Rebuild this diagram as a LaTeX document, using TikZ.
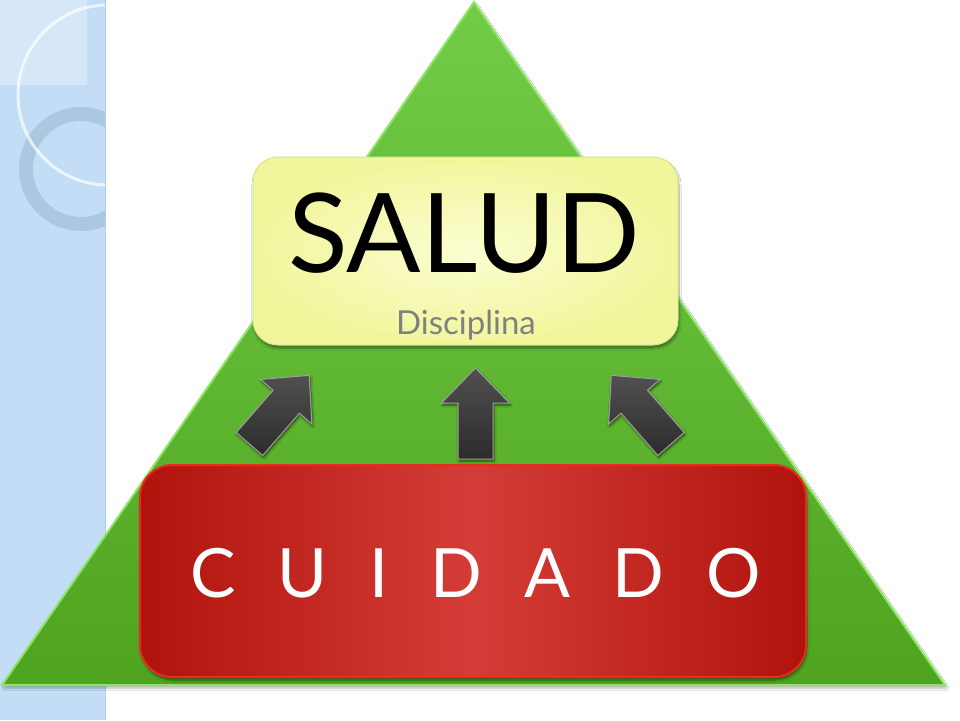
\documentclass[tikz,border=0pt]{standalone}
\usepackage{fontspec}
\setmainfont{Lato}
\usetikzlibrary{shadows.blur}
\definecolor{stripblue}{HTML}{C2DDF5}
\definecolor{striplight}{HTML}{D6E8F8}
\definecolor{stripedge}{HTML}{AFCDE8}
\definecolor{ringblue}{HTML}{A3BFD8}
\definecolor{trtop}{HTML}{72CC48}
\definecolor{trbot}{HTML}{4FA41F}
\definecolor{tredge}{HTML}{8EE466}
\definecolor{yelin}{HTML}{FBFDD0}
\definecolor{yelout}{HTML}{F1F69C}
\definecolor{yeledge}{HTML}{D7E68A}
\definecolor{redin}{HTML}{D43D37}
\definecolor{redout}{HTML}{B0130C}
\definecolor{rededge}{HTML}{E82A20}
\definecolor{arrlight}{HTML}{505050}
\definecolor{arrdark}{HTML}{2C2C2C}
\definecolor{arredge}{HTML}{A0A0A0}
\definecolor{subgray}{HTML}{808080}
\tikzset{
  blockarrow/.style={draw=arredge, line width=1pt, line join=miter,
    top color=arrlight, bottom color=arrdark,
    blur shadow={shadow xshift=1pt, shadow yshift=-2pt, shadow blur steps=6, shadow opacity=60}},
  saludbox/.style={rectangle, rounded corners=25pt, draw=yeledge, line width=1pt,
    inner color=yelin, outer color=yelout, minimum width=425pt, minimum height=188pt,
    blur shadow={shadow xshift=1pt, shadow yshift=-3pt, shadow blur steps=8, shadow opacity=40}},
  cuidadobox/.style={rectangle, rounded corners=32pt, draw=rededge, line width=2pt,
    left color=redout, right color=redout, middle color=redin, minimum width=666pt, minimum height=212pt,
    blur shadow={shadow xshift=1pt, shadow yshift=-3pt, shadow blur steps=8, shadow opacity=45}},
  pyramid/.style={draw=tredge, line width=2pt, line join=miter, top color=trtop, bottom color=trbot,
    blur shadow={shadow xshift=2pt, shadow yshift=-3pt, shadow blur steps=6, shadow opacity=30}},
  bigtext/.style={anchor=base, inner sep=0pt, font=\fontsize{110}{112}\selectfont, text=black},
  subtext/.style={anchor=base, inner sep=0pt, font=\fontsize{33}{35}\selectfont, text=subgray},
  redtext/.style={anchor=base, inner sep=0pt, font=\fontsize{68}{70}\selectfont, text=white}
}
\newcommand{\arrowshape}{(0,-17.5) -- (56,-17.5) -- (56,-34) -- (91,0) -- (56,34) -- (56,17.5) -- (0,17.5) -- cycle}
\newcommand{\lgap}{\hspace{42pt}}
\begin{document}
\begin{tikzpicture}[x=1pt,y=-1pt]
\useasboundingbox (0,0) rectangle (960,720);
\fill[white] (0,0) rectangle (960,720);
% left decorative strip
\fill[stripblue] (0,0) rectangle (105,720);
\begin{scope}
  \clip (0,0) rectangle (105,720);
  \fill[striplight] (0,0) rectangle (87,85);
  \draw[ringblue, line width=14pt, opacity=0.7] (81,169) circle (55);
  \draw[white, opacity=0.7, line width=3pt] (108,95) circle (90);
\end{scope}
\draw[stripedge, line width=0.8pt] (105,0) -- (105,720);
% pyramid
\coordinate (apex) at (474,2);
\coordinate (bl) at (2,685);
\coordinate (br) at (945,685);
\path[pyramid] (apex) -- (br) -- (bl) -- cycle;
% top box
\node[saludbox] (salud) at (465.5,251) {};
\node[bigtext] (saludt) at (464,272) {SALUD};
\node[subtext] (disc) at (466,334) {Disciplina};
% arrows
\begin{scope}[shift={(475.5,459)}, rotate=90]
  \path[blockarrow] \arrowshape;
\end{scope}
\begin{scope}[shift={(249.5,444)}, rotate=49]
  \path[blockarrow] \arrowshape;
\end{scope}
\begin{scope}[shift={(671,444)}, rotate=131]
  \path[blockarrow] \arrowshape;
\end{scope}
% bottom box
\node[cuidadobox] (cuidado) at (473,571) {};
\node[redtext] (cuidadot) at (475.5,597) {C\lgap U\lgap I\lgap D\lgap A\lgap D\lgap O};
\end{tikzpicture}
\end{document}
